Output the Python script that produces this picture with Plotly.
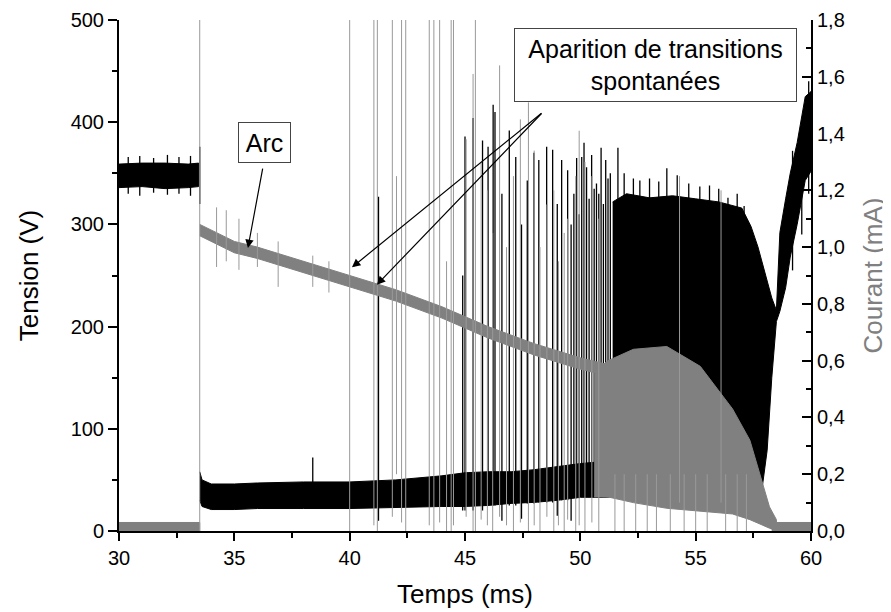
import plotly.graph_objects as go

# ---- voltage (V), black trace ----
# before the arc
pre_t = [30, 31, 32, 33, 33.45]
pre_lo = [336, 337, 335, 336, 337]
pre_hi = [359, 360, 360, 359, 360]

# arc baseline after the jump
base_t = [33.5, 33.6, 34, 35, 36, 38, 40, 42, 44, 45, 46, 47, 48, 49, 50, 51, 52]
base_lo = [30, 24, 21, 21, 22, 22, 22, 23, 24, 24, 25, 27, 28, 30, 33, 33, 34]
base_hi = [58, 50, 46, 46, 47, 48, 48, 50, 54, 57, 58, 58, 60, 63, 66, 68, 70]

# dense oscillation zone + recovery
dense_t = [51.4, 52, 53, 54, 55, 56, 57, 57.4, 57.7, 57.9, 58.1, 58.3, 58.5, 58.65, 58.9, 59.1, 59.4, 59.75, 60]
dense_lo = [36, 35, 36, 38, 40, 40, 42, 43, 44, 45, 79, 150, 205, 215, 238, 268, 300, 343, 352]
dense_hi = [322, 330, 326, 328, 325, 322, 316, 298, 278, 262, 245, 228, 216, 292, 325, 350, 380, 425, 430]

# individual voltage spikes
vsp_t = [30.4, 30.9, 31.5, 32.1, 32.6, 33.1, 33.5, 38.4, 41.25, 44.9, 45.0, 45.35, 45.76, 46.0, 46.22,
         46.3, 46.6, 46.92, 47.2, 47.45, 47.7, 47.99, 48.2, 48.54, 48.8, 49.0, 49.19, 49.45, 49.6,
         49.72, 49.84, 49.95, 50.06, 50.16, 50.27, 50.38, 50.49, 50.6, 50.7, 50.8, 50.9, 51.0,
         51.1, 51.2, 51.3, 51.63, 51.9, 52.3, 52.58, 53.0, 53.4, 53.75, 54.2, 54.7, 55.18, 55.6,
         56.0, 56.4, 56.8, 57.1, 59.2, 59.6, 59.9]
vsp_lo = [330, 328, 331, 329, 330, 328, 320, 30, 10, 20, 20, 20, 20, 25, 25,
          25, 10, 25, 25, 12, 27, 27, 28, 28, 28, 15, 30, 30, 10,
          32, 32, 32, 33, 33, 33, 33, 33, 33, 33, 33, 33, 33,
          33, 33, 34, 36, 36, 36, 36, 36, 37, 36, 38, 39, 40, 40,
          40, 40, 41, 42, 255, 290, 330]
vsp_hi = [366, 367, 365, 368, 366, 367, 376, 72, 327, 250, 386, 404, 382, 376, 417,
          410, 330, 392, 366, 300, 343, 370, 363, 376, 373, 320, 363, 353, 300,
          330, 365, 310, 366, 380, 356, 325, 368, 335, 340, 330, 375, 320,
          363, 345, 350, 375, 350, 345, 343, 345, 342, 355, 348, 340, 337, 338,
          335, 326, 330, 318, 372, 402, 440]

# ---- current (mA), grey trace ----
ipre_t = [30, 33.5]
ipre_lo = [0.0, 0.0]
ipre_hi = [0.03, 0.03]

arc_t = [33.5, 34, 35, 36, 38, 40, 42, 44, 46, 48, 50, 52, 54, 55]
arc_lo = [1.04, 1.02, 0.98, 0.96, 0.91, 0.86, 0.81, 0.75, 0.68, 0.62, 0.57, 0.53, 0.47, 0.44]
arc_hi = [1.08, 1.06, 1.02, 1.00, 0.95, 0.90, 0.85, 0.79, 0.72, 0.66, 0.61, 0.57, 0.51, 0.48]

idense_t = [50.6, 51.2, 52.3, 53.75, 55.2, 56.6, 57.35, 57.9, 58.2, 58.5]
idense_lo = [0.12, 0.12, 0.10, 0.08, 0.07, 0.06, 0.04, 0.02, 0.01, 0.0]
idense_hi = [0.56, 0.60, 0.64, 0.65, 0.58, 0.43, 0.32, 0.17, 0.085, 0.04]

itail_t = [58.3, 60]
itail_lo = [0.0, 0.0]
itail_hi = [0.03, 0.03]

isp_t = [33.5, 34.23, 34.65, 35.2, 36.0, 36.9, 38.4, 39.1,
         40.0, 41.05, 41.2, 41.85, 42.03, 42.25, 42.43, 43.45, 43.65, 43.9, 44.2, 44.4, 44.5,
         45.05, 45.35, 45.45, 45.7, 45.97, 46.2, 46.5, 46.8, 47.1, 47.4, 47.75, 48.0, 48.25,
         48.55, 48.85, 49.05, 49.3, 49.45, 49.8, 49.95, 50.2, 50.5, 50.8, 54.3, 56.1,
         51.5, 51.9, 52.4, 52.9, 53.3, 53.9, 54.5, 55.0, 55.5, 56.3, 56.8, 57.2]
isp_lo = [0.0, 0.93, 0.95, 0.92, 0.93, 0.86, 0.86, 0.84,
          0.0, 0.02, 0.0, 0.05, 0.2, 0.03, 0.0, 0.02, 0.0, 0.03, 0.0, 0.0, 0.02,
          0.05, 0.0, 0.0, 0.04, 0.02, 0.0, 0.05, 0.02, 0.0, 0.03, 0.0, 0.02, 0.0,
          0.05, 0.0, 0.02, 0.0, 0.04, 0.0, 0.02, 0.0, 0.03, 0.0, 0.1, 0.1,
          0.0, 0.0, 0.0, 0.0, 0.0, 0.0, 0.0, 0.0, 0.0, 0.0, 0.0, 0.0]
isp_hi = [1.9, 1.14, 1.13, 1.10, 1.05, 1.02, 0.97, 0.95,
          1.9, 1.9, 1.9, 1.9, 1.25, 1.9, 1.9, 1.9, 1.9, 1.9, 0.95, 1.9, 1.9,
          1.38, 1.61, 1.9, 1.3, 1.2, 1.05, 1.64, 1.0, 1.25, 1.45, 1.51, 1.34, 1.0,
          1.15, 1.2, 0.95, 1.05, 1.1, 1.25, 1.41, 1.3, 1.25, 1.1, 1.25, 1.2,
          0.2, 0.2, 0.2, 0.2, 0.2, 0.2, 0.2, 0.2, 0.2, 0.2, 0.2, 0.2]

x_ticks = [30, 35, 40, 45, 50, 55, 60]
v_ticks = [0, 100, 200, 300, 400, 500]
i_ticks = [0.0, 0.2, 0.4, 0.6, 0.8, 1.0, 1.2, 1.4, 1.6, 1.8]
i_labels = ["0,0", "0,2", "0,4", "0,6", "0,8", "1,0", "1,2", "1,4", "1,6", "1,8"]

BLACK = "#000000"
GREY = "#808080"
FONT = "Liberation Sans, Arial, sans-serif"


def band(t, lo, hi):
    return list(t) + list(t)[::-1], list(hi) + list(lo)[::-1]


def spikes(t, lo, hi):
    xs, ys = [], []
    for a, b, c in zip(t, lo, hi):
        xs += [a, a, None]
        ys += [b, c, None]
    return xs, ys


fig = go.Figure()

# voltage
for t, lo, hi in [(pre_t, pre_lo, pre_hi), (base_t, base_lo, base_hi), (dense_t, dense_lo, dense_hi)]:
    bx, by = band(t, lo, hi)
    fig.add_trace(go.Scatter(x=bx, y=by, fill="toself", fillcolor=BLACK, mode="lines",
                             line=dict(color=BLACK, width=1), yaxis="y", hoverinfo="skip"))
sx, sy = spikes(vsp_t, vsp_lo, vsp_hi)
fig.add_trace(go.Scatter(x=sx, y=sy, mode="lines", line=dict(color=BLACK, width=1.3),
                         yaxis="y", hoverinfo="skip"))

# current
for t, lo, hi in [(ipre_t, ipre_lo, ipre_hi), (arc_t, arc_lo, arc_hi),
                  (idense_t, idense_lo, idense_hi), (itail_t, itail_lo, itail_hi)]:
    bx, by = band(t, lo, hi)
    fig.add_trace(go.Scatter(x=bx, y=by, fill="toself", fillcolor=GREY, mode="lines",
                             line=dict(color=GREY, width=1), yaxis="y2", hoverinfo="skip"))
sx, sy = spikes(isp_t, isp_lo, isp_hi)
fig.add_trace(go.Scatter(x=sx, y=sy, mode="lines", line=dict(color="#999999", width=1),
                         yaxis="y2", hoverinfo="skip"))

axis_common = dict(showline=True, linecolor=BLACK, linewidth=2, showgrid=False, zeroline=False,
                   automargin=False, tickcolor=BLACK, tickwidth=2,
                   tickfont=dict(size=20, color=BLACK, family=FONT))

# page body has an 8px margin, so the figure is sized to fit the 891x612 window
fig.update_layout(
    width=883, height=604,
    margin=dict(l=111, r=80, t=12, b=81, autoexpand=False),
    paper_bgcolor="white", plot_bgcolor="white",
    showlegend=False,
    font=dict(family=FONT, color=BLACK),
    xaxis=dict(range=[30, 60], tickvals=x_ticks, ticks="outside", ticklen=8,
               minor=dict(dtick=2.5, tick0=30, ticks="outside", ticklen=5, tickwidth=2, tickcolor=BLACK),
               title=dict(text="Temps (ms)", font=dict(size=26), standoff=17),
               **axis_common),
    yaxis=dict(range=[0, 500], tickvals=v_ticks, ticks="outside", ticklen=9,
               minor=dict(dtick=50, tick0=0, ticks="outside", ticklen=5, tickwidth=2, tickcolor=BLACK),
               title=dict(text="Tension (V)", font=dict(size=26), standoff=25),
               **axis_common),
    yaxis2=dict(range=[0, 1.8], overlaying="y", side="right", anchor="x",
                tickvals=i_ticks, ticktext=i_labels, ticks="inside", ticklen=9,
                minor=dict(dtick=0.1, tick0=0, ticks="inside", ticklen=5, tickwidth=2, tickcolor=BLACK),
                title=dict(text="Courant (mA)", font=dict(size=26, color=GREY), standoff=20),
                **axis_common),
)

box = dict(showarrow=False, bordercolor="#444444", borderwidth=1, borderpad=0,
           bgcolor="white", font=dict(size=25, color=BLACK, family=FONT), xref="x", yref="y")
fig.add_annotation(x=36.31, y=380, text="Arc", width=51, height=39, **box)
fig.add_annotation(x=53.25, y=456, text="Aparition de transitions<br>spontanées",
                   width=281, height=72, **box)

arrows = [((36.24, 356), (35.59, 277)), ((48.38, 410), (40.1, 258)), ((48.38, 410), (41.18, 241))]
for (tx, ty), (hx, hy) in arrows:
    fig.add_annotation(x=hx, y=hy, ax=tx, ay=ty, xref="x", yref="y", axref="x", ayref="y",
                       text="", showarrow=True, arrowhead=2, arrowsize=1.4, arrowwidth=1.2,
                       arrowcolor=BLACK, standoff=0)

fig.write_html("out.html")
